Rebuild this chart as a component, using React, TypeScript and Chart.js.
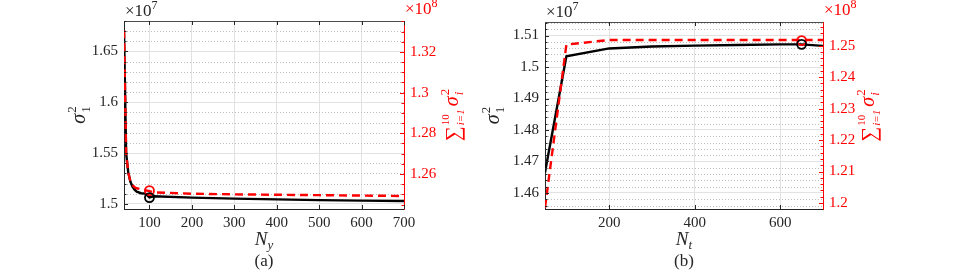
import React, { useEffect, useRef } from "react";
import { Chart, registerables } from "chart.js";
Chart.register(...registerables);

// ---------- Panel (a): sweep over N_y ----------
const nyValues = [40, 45, 50, 55, 60, 65, 70, 80, 90, 100, 110, 200, 300, 400, 500, 600, 700];
const nySigma1 = [1.671, 1.55, 1.531, 1.522, 1.517, 1.514, 1.512, 1.5105, 1.5102, 1.5065, 1.5075, 1.5062, 1.5052, 1.5045, 1.5037, 1.5032, 1.5028];
const nySumSigma = [1.3307, 1.2702, 1.2607, 1.2565, 1.2545, 1.2535, 1.253, 1.2525, 1.252, 1.2516, 1.251, 1.2503, 1.25, 1.2498, 1.2496, 1.2494, 1.2492];
const nyOptimum = [100];
const nyOptSigma1 = [1.5062];
const nyOptSum = [1.2518];
const nyXTicks = [100, 200, 300, 400, 500, 600, 700];
const nyLeftTicks = [1.5, 1.55, 1.6, 1.65];
const nyRightTicks = [1.26, 1.28, 1.3, 1.32];

// ---------- Panel (b): sweep over N_t ----------
const ntValues = [50, 100, 200, 300, 400, 500, 600, 650, 700];
const ntSigma1 = [1.4665, 1.5034, 1.5059, 1.5065, 1.5068, 1.507, 1.5072, 1.5072, 1.5067];
const ntSumSigma = [1.1985, 1.2503, 1.2518, 1.2518, 1.2518, 1.2518, 1.2518, 1.2518, 1.2518];
const ntOptimum = [650];
const ntOptSigma1 = [1.5072];
const ntOptSum = [1.2516];
const ntXTicks = [200, 400, 600];
const ntLeftTicks = [1.46, 1.47, 1.48, 1.49, 1.5, 1.51];
const ntRightTicks = [1.2, 1.21, 1.22, 1.23, 1.24, 1.25];

const SERIF = "'Liberation Serif', 'Times New Roman', serif";
const AX = "#262626";
const RED = "#ff0000";

type Seg = { t: string; f: string; dy: number; stack?: boolean; gap?: number };

function segsWidth(ctx: CanvasRenderingContext2D, segs: Seg[]) {
  let x = 0, lastStart = 0, lastW = 0;
  for (const s of segs) {
    ctx.font = s.f;
    const w = ctx.measureText(s.t).width;
    if (s.stack) {
      lastW = Math.max(lastW, w);
      x = lastStart + lastW;
    } else {
      lastStart = x + (s.gap || 0);
      lastW = w;
      x = lastStart + w;
    }
  }
  return x;
}

function drawSegs(ctx: CanvasRenderingContext2D, segs: Seg[], x0: number, base: number) {
  let x = x0, lastStart = x0, lastW = 0;
  for (const s of segs) {
    ctx.font = s.f;
    const w = ctx.measureText(s.t).width;
    if (s.stack) {
      ctx.fillText(s.t, lastStart, base + s.dy);
      lastW = Math.max(lastW, w);
      x = lastStart + lastW;
    } else {
      lastStart = x + (s.gap || 0);
      ctx.fillText(s.t, lastStart, base + s.dy);
      lastW = w;
      x = lastStart + w;
    }
  }
}

function drawCentered(ctx: CanvasRenderingContext2D, segs: Seg[], cx: number, cy: number, rotate: boolean, color: string, base: number) {
  ctx.save();
  ctx.fillStyle = color;
  ctx.textAlign = "left";
  ctx.textBaseline = "alphabetic";
  ctx.translate(cx, cy);
  if (rotate) ctx.rotate(-Math.PI / 2);
  const w = segsWidth(ctx, segs);
  drawSegs(ctx, segs, -w / 2, base);
  ctx.restore();
}

type PanelCfg = {
  x: number[]; black: number[]; red: number[];
  optX: number[]; optBlack: number[]; optRed: number[];
  xMin: number; xMax: number; xTicks: number[];
  yMin: number; yMax: number; yTicks: number[]; yMinor: number;
  y2Min: number; y2Max: number; y2Ticks: number[]; y2Minor: number;
  width: number; left: number; yW: number; y2W: number; top: number; bottom: number;
  leftLabelOff: number; rightLabelOff: number; xSub: string; caption: string;
};

function minorList(min: number, max: number, step: number) {
  const out: number[] = [];
  const start = Math.ceil(min / step - 1e-9);
  const end = Math.floor(max / step + 1e-9);
  for (let i = start; i <= end; i++) out.push(Math.round(i * step * 1e6) / 1e6);
  return out;
}

function isMajor(v: number, majors: number[]) {
  return majors.some((m) => Math.abs(m - v) < 1e-7);
}

function fmt(v: number) {
  return String(Math.round(v * 10000) / 10000);
}

function line(ctx: CanvasRenderingContext2D, x1: number, y1: number, x2: number, y2: number) {
  ctx.beginPath();
  ctx.moveTo(x1, y1);
  ctx.lineTo(x2, y2);
  ctx.stroke();
}

function makeChart(canvas: HTMLCanvasElement, cfg: PanelCfg) {
  const decor = {
    id: "decor",
    beforeDatasetsDraw(chart: any) {
      const { ctx, chartArea: a } = chart;
      const ys = chart.scales.y;
      ctx.save();
      ctx.strokeStyle = "#bdbdbd";
      ctx.lineWidth = 1;
      ctx.setLineDash([1, 2]);
      for (const v of minorList(cfg.yMin, cfg.yMax, cfg.yMinor)) {
        if (isMajor(v, cfg.yTicks)) continue;
        const py = Math.round(ys.getPixelForValue(v)) + 0.5;
        line(ctx, a.left, py, a.right, py);
      }
      ctx.restore();
    },
    afterDraw(chart: any) {
      const { ctx, chartArea: a } = chart;
      const xs = chart.scales.x, ys = chart.scales.y, y2 = chart.scales.y2;
      ctx.save();
      ctx.lineWidth = 1;
      ctx.strokeStyle = "#4d4d4d";
      line(ctx, a.left, a.top + 0.5, a.right, a.top + 0.5);
      ctx.strokeStyle = AX;
      for (const v of cfg.xTicks) {
        const px = Math.round(xs.getPixelForValue(v)) + 0.5;
        line(ctx, px, a.bottom, px, a.bottom - 4);
        line(ctx, px, a.top, px, a.top + 4);
      }
      for (const v of minorList(cfg.yMin, cfg.yMax, cfg.yMinor)) {
        const py = Math.round(ys.getPixelForValue(v)) + 0.5;
        const len = isMajor(v, cfg.yTicks) ? 4 : 2.5;
        line(ctx, a.left, py, a.left + len, py);
      }
      ctx.strokeStyle = RED;
      for (const v of minorList(cfg.y2Min, cfg.y2Max, cfg.y2Minor)) {
        const py = Math.round(y2.getPixelForValue(v)) + 0.5;
        const len = isMajor(v, cfg.y2Ticks) ? 4 : 2.5;
        line(ctx, a.right, py, a.right - len, py);
      }
      ctx.restore();

      // exponent labels
      ctx.save();
      ctx.textAlign = "left";
      ctx.textBaseline = "alphabetic";
      ctx.fillStyle = AX;
      drawSegs(ctx, [
        { t: "×10", f: `17px ${SERIF}`, dy: 0 },
        { t: "7", f: `12px ${SERIF}`, dy: -7 },
      ], a.left + 1, a.top - 5);
      ctx.fillStyle = RED;
      drawSegs(ctx, [
        { t: "×10", f: `17px ${SERIF}`, dy: 0 },
        { t: "8", f: `12px ${SERIF}`, dy: -7 },
      ], a.right + 1, a.top - 7);
      ctx.restore();

      const cy = (a.top + a.bottom) / 2;
      drawCentered(ctx, [
        { t: "σ", f: `italic 20px ${SERIF}`, dy: 0 },
        { t: "2", f: `13px ${SERIF}`, dy: -9, gap: 1 },
        { t: "1", f: `13px ${SERIF}`, dy: 5, stack: true },
      ], a.left - cfg.leftLabelOff, cy, true, AX, 5);
      drawCentered(ctx, [
        { t: "∑", f: `21px ${SERIF}`, dy: 2 },
        { t: "10", f: `11px ${SERIF}`, dy: -9, gap: 1 },
        { t: "i=1", f: `italic 11px ${SERIF}`, dy: 6, stack: true },
        { t: "σ", f: `italic 20px ${SERIF}`, dy: 0, gap: 3 },
        { t: "2", f: `13px ${SERIF}`, dy: -9, gap: 1 },
        { t: "i", f: `italic 13px ${SERIF}`, dy: 5, stack: true },
      ], a.right + cfg.rightLabelOff, cy, true, RED, 6);
      const cx = (a.left + a.right) / 2;
      drawCentered(ctx, [
        { t: "N", f: `italic 19px ${SERIF}`, dy: 0 },
        { t: cfg.xSub, f: `italic 13px ${SERIF}`, dy: 4, gap: 0 },
      ], cx, 245, false, AX, 0);
      drawCentered(ctx, [{ t: cfg.caption, f: `17px ${SERIF}`, dy: 0 }], cx, 266, false, AX, 0);
    },
  };

  const tickFont = { family: SERIF, size: 15 };
  return new Chart(canvas, {
    type: "line",
    data: {
      datasets: [
        {
          label: "opt black",
          data: cfg.optX.map((x, i) => ({ x, y: cfg.optBlack[i] })),
          yAxisID: "y",
          showLine: false,
          pointRadius: 4.5,
          pointStyle: "circle",
          pointBorderWidth: 1.8,
          pointBorderColor: "#000000",
          pointBackgroundColor: "rgba(0,0,0,0)",
          order: 0,
        },
        {
          label: "opt red",
          data: cfg.optX.map((x, i) => ({ x, y: cfg.optRed[i] })),
          yAxisID: "y2",
          showLine: false,
          pointRadius: 4.5,
          pointStyle: "circle",
          pointBorderWidth: 1.8,
          pointBorderColor: RED,
          pointBackgroundColor: "rgba(0,0,0,0)",
          order: 0,
        },
        {
          label: "sum sigma",
          data: cfg.x.map((x, i) => ({ x, y: cfg.red[i] })),
          yAxisID: "y2",
          borderColor: RED,
          borderWidth: 2.4,
          borderDash: [8, 5],
          pointRadius: 0,
          tension: 0,
          order: 1,
        },
        {
          label: "sigma1",
          data: cfg.x.map((x, i) => ({ x, y: cfg.black[i] })),
          yAxisID: "y",
          borderColor: "#000000",
          borderWidth: 2.4,
          pointRadius: 0,
          tension: 0,
          order: 2,
        },
      ],
    },
    options: {
      animation: false,
      responsive: false,
      maintainAspectRatio: false,
      devicePixelRatio: 1,
      events: [],
      layout: { padding: { top: cfg.top, left: 0, right: 0, bottom: 0 } },
      plugins: { legend: { display: false }, tooltip: { enabled: false }, title: { display: false } },
      scales: {
        x: {
          type: "linear",
          min: cfg.xMin,
          max: cfg.xMax,
          afterBuildTicks: (s: any) => { s.ticks = cfg.xTicks.map((v) => ({ value: v })); },
          afterFit: (s: any) => { s.height = 272 - cfg.bottom; },
          grid: { color: "#e2e2e2", lineWidth: 1, drawTicks: false },
          border: { display: true, color: AX, width: 1 },
          ticks: { font: tickFont, color: AX, padding: 5, maxRotation: 0, autoSkip: false, callback: (v: any) => String(v) },
        },
        y: {
          type: "linear",
          position: "left",
          min: cfg.yMin,
          max: cfg.yMax,
          afterBuildTicks: (s: any) => { s.ticks = cfg.yTicks.map((v) => ({ value: v })); },
          afterFit: (s: any) => { s.width = cfg.yW; },
          grid: { color: "#e2e2e2", lineWidth: 1, drawTicks: false },
          border: { display: true, color: AX, width: 1 },
          ticks: { font: tickFont, color: AX, padding: 6, autoSkip: false, callback: (v: any) => fmt(v) },
        },
        y2: {
          type: "linear",
          position: "right",
          min: cfg.y2Min,
          max: cfg.y2Max,
          afterBuildTicks: (s: any) => { s.ticks = cfg.y2Ticks.map((v) => ({ value: v })); },
          afterFit: (s: any) => { s.width = cfg.y2W; },
          grid: { display: false, drawTicks: false },
          border: { display: true, color: RED, width: 1 },
          ticks: { font: tickFont, color: RED, padding: 6, autoSkip: false, callback: (v: any) => fmt(v) },
        },
      },
    } as any,
    plugins: [decor],
  });
}

const panelA: PanelCfg = {
  x: nyValues, black: nySigma1, red: nySumSigma,
  optX: nyOptimum, optBlack: nyOptSigma1, optRed: nyOptSum,
  xMin: 40, xMax: 700, xTicks: nyXTicks,
  yMin: 1.495, yMax: 1.68, yTicks: nyLeftTicks, yMinor: 0.01,
  y2Min: 1.2428, y2Max: 1.3352, y2Ticks: nyRightTicks, y2Minor: 0.005,
  width: 478, left: 0, yW: 124, y2W: 74, top: 21, bottom: 209,
  leftLabelOff: 44, rightLabelOff: 48, xSub: "y", caption: "(a)",
};

const panelB: PanelCfg = {
  x: ntValues, black: ntSigma1, red: ntSumSigma,
  optX: ntOptimum, optBlack: ntOptSigma1, optRed: ntOptSum,
  xMin: 50, xMax: 700, xTicks: ntXTicks,
  yMin: 1.4549, yMax: 1.5143, yTicks: ntLeftTicks, yMinor: 0.002,
  y2Min: 1.1981, y2Max: 1.2575, y2Ticks: ntRightTicks, y2Minor: 0.002,
  width: 477, left: 478, yW: 67, y2W: 132, top: 22, bottom: 209,
  leftLabelOff: 51, rightLabelOff: 45, xSub: "t", caption: "(b)",
};

function Panel({ cfg }: { cfg: PanelCfg }) {
  const ref = useRef<HTMLCanvasElement | null>(null);
  useEffect(() => {
    if (!ref.current) return;
    const chart = makeChart(ref.current, cfg);
    return () => chart.destroy();
  }, [cfg]);
  return (
    <div style={{ position: "absolute", left: cfg.left, top: 0, width: cfg.width, height: 272 }}>
      <canvas ref={ref} width={cfg.width} height={272} style={{ display: "block", width: cfg.width, height: 272 }} />
    </div>
  );
}

export default function App() {
  return (
    <div style={{ position: "absolute", left: 0, top: 0, width: 955, height: 272, background: "#ffffff", overflow: "hidden" }}>
      <Panel cfg={panelA} />
      <Panel cfg={panelB} />
    </div>
  );
}
